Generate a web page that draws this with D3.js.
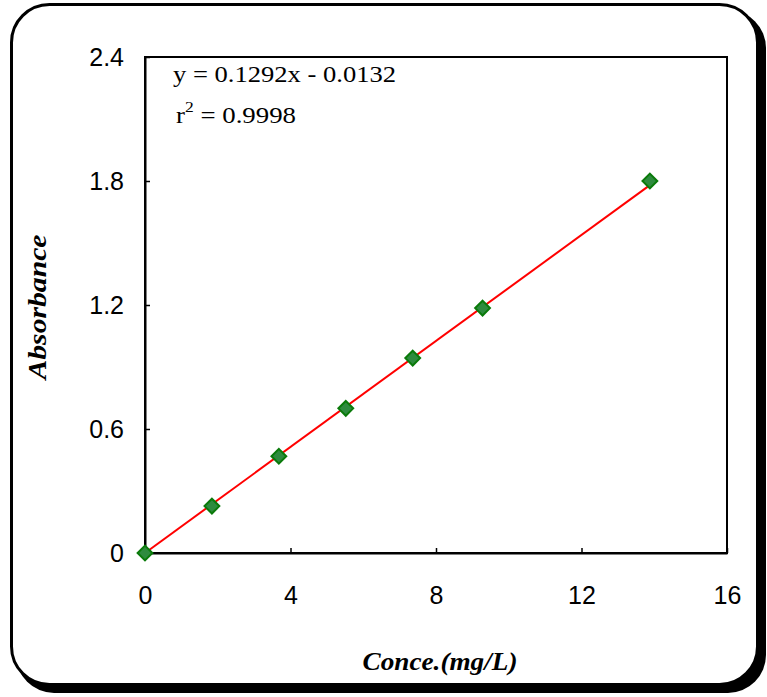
<!DOCTYPE html>
<html>
<head>
<meta charset="utf-8">
<script src="https://cdn.jsdelivr.net/npm/d3@7"></script>
<style>
  body { margin: 0; background: #fff; }
  svg { display: block; }
</style>
</head>
<body>
<script>
// calibration data
const conc = [0, 1.84, 3.68, 5.52, 7.36, 9.28, 13.88];
const absorb = [0, 0.227, 0.468, 0.70, 0.943, 1.185, 1.80];
const xTicks = [0, 4, 8, 12, 16];
const yTicks = [0, 0.6, 1.2, 1.8, 2.4];
const slope = 0.1292, intercept = -0.0132;
const eqLabel = "y = 0.1292x - 0.0132";

const W = 767, H = 697;
const plot = { left: 145, top: 57, right: 727, bottom: 553 };

const svg = d3.select("body").append("svg").attr("width", W).attr("height", H);

// outer frame with shadow
svg.append("rect").attr("x", 16).attr("y", 10).attr("width", 750).attr("height", 683)
  .attr("rx", 38).attr("fill", "#000");
svg.append("rect").attr("x", 11.5).attr("y", 4.5).attr("width", 746).attr("height", 680)
  .attr("rx", 38).attr("fill", "#fff").attr("stroke", "#000").attr("stroke-width", 3);

const x = d3.scaleLinear().domain([0, 16]).range([plot.left, plot.right]);
const y = d3.scaleLinear().domain([0, 2.4]).range([plot.bottom, plot.top]);

// plot box
svg.append("rect").attr("x", plot.left).attr("y", plot.top)
  .attr("width", plot.right - plot.left).attr("height", plot.bottom - plot.top)
  .attr("fill", "none").attr("stroke", "#000").attr("stroke-width", 2);

// axes with inward ticks
const xAxis = svg.append("g").attr("transform", `translate(0,${plot.bottom})`)
  .call(d3.axisBottom(x).tickValues(xTicks).tickSizeInner(-5).tickSizeOuter(0).tickPadding(33).tickFormat(d3.format("d")));
const yAxis = svg.append("g").attr("transform", `translate(${plot.left},0)`)
  .call(d3.axisLeft(y).tickValues(yTicks).tickSizeInner(-5).tickSizeOuter(0).tickPadding(21)
    .tickFormat(d => d === 0 ? "0" : d3.format(".1f")(d)));
[xAxis, yAxis].forEach(g => {
  g.select(".domain").attr("stroke-width", 2);
  g.selectAll(".tick line").attr("stroke-width", 1.5);
  g.selectAll("text").attr("font-family", "'Liberation Sans', Arial, sans-serif")
    .attr("font-size", 25).attr("fill", "#000");
});

// fitted line
const xMax = d3.max(conc);
svg.append("line")
  .attr("x1", x(0)).attr("y1", y(Math.max(0, intercept)))
  .attr("x2", x(xMax)).attr("y2", y(slope * xMax + intercept))
  .attr("stroke", "#ff0000").attr("stroke-width", 2);

// markers
const diamond = d3.symbol().type(d3.symbolDiamond2).size(140);
svg.selectAll("path.pt").data(conc).join("path").attr("class", "pt")
  .attr("d", diamond)
  .attr("transform", (d, i) => `translate(${x(d)},${y(absorb[i])})`)
  .attr("fill", "#2e8b3e").attr("stroke", "#0a7a0a").attr("stroke-width", 2);

// equation text (the original is stretched sideways)
const serif = "'Liberation Serif', 'Times New Roman', serif";
svg.append("text").attr("x", 173).attr("y", 82).attr("font-family", serif)
  .attr("font-size", 23).attr("textLength", 223).attr("lengthAdjust", "spacingAndGlyphs").text(eqLabel);
const r2 = svg.append("text").attr("x", 176).attr("y", 123).attr("font-family", serif).attr("font-size", 23)
  .attr("textLength", 120).attr("lengthAdjust", "spacingAndGlyphs");
r2.append("tspan").text("r");
r2.append("tspan").attr("font-size", 15).attr("dy", -11).text("2");
r2.append("tspan").attr("dy", 11).text(" = 0.9998");

// axis titles
svg.append("text").attr("x", 440).attr("y", 670).attr("text-anchor", "middle")
  .attr("font-family", serif).attr("font-size", 25).attr("font-weight", "bold").attr("font-style", "italic")
  .attr("textLength", 155).attr("lengthAdjust", "spacingAndGlyphs")
  .text("Conce.(mg/L)");
svg.append("text").attr("transform", "translate(46,307) rotate(-90)").attr("text-anchor", "middle")
  .attr("font-family", serif).attr("font-size", 25).attr("font-weight", "bold").attr("font-style", "italic")
  .attr("textLength", 145).attr("lengthAdjust", "spacingAndGlyphs")
  .text("Absorbance");
</script>
</body>
</html>
